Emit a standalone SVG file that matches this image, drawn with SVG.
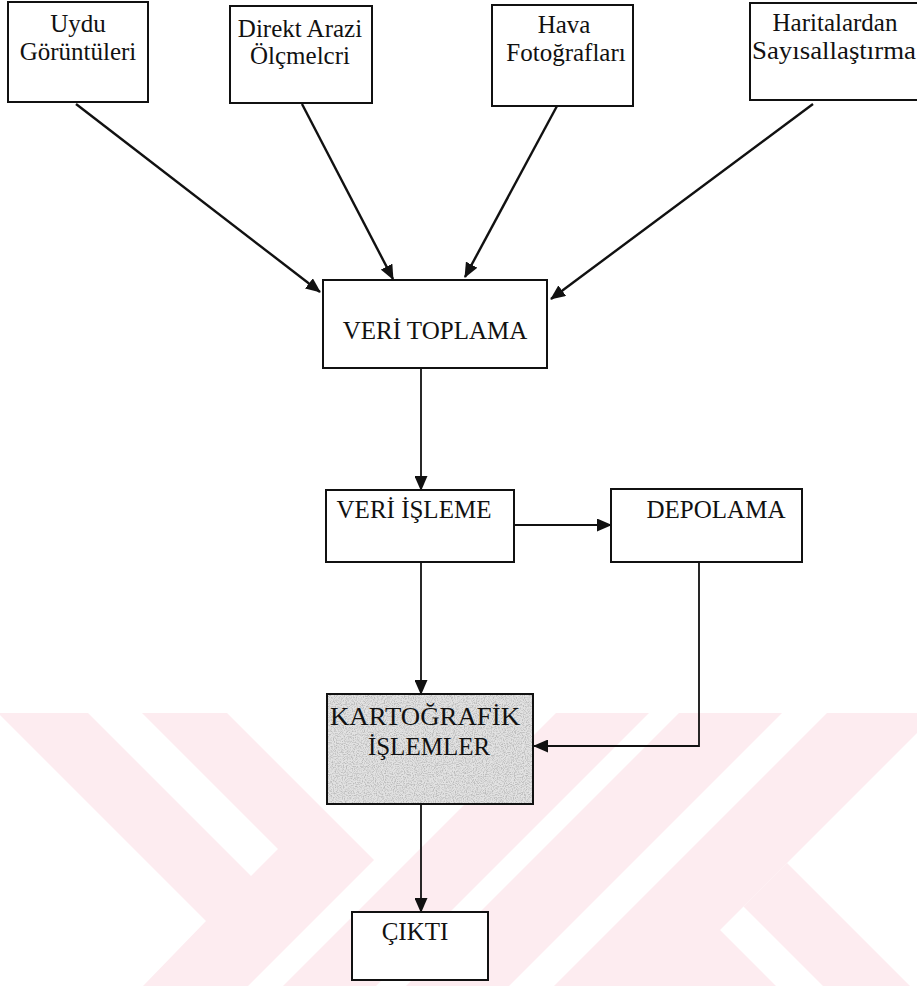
<svg xmlns="http://www.w3.org/2000/svg" width="917" height="986" viewBox="0 0 917 986">
  <defs>
    <style>
      .box { fill: #ffffff; stroke: #111111; stroke-width: 2; }
      .lbl { font-family: "Liberation Serif", "Times New Roman", serif; font-size: 25px; fill: #111111; text-anchor: middle; }
      .edge { fill: none; stroke: #111111; stroke-width: 1.8; }
      .edge-bold { fill: none; stroke: #111111; stroke-width: 2.4; }
      .mark { fill: #fdecf0; }
    </style>
    <marker id="arrow" viewBox="0 0 15 13" refX="14" refY="6.5" markerWidth="15" markerHeight="13" markerUnits="userSpaceOnUse" orient="auto">
      <path d="M0,0 L15,6.5 L0,13 z" fill="#111111"/>
    </marker>
    <filter id="grain" x="0" y="0" width="100%" height="100%">
      <feTurbulence type="fractalNoise" baseFrequency="0.9" numOctaves="2" seed="7" result="noise"/>
      <feColorMatrix in="noise" type="matrix" values="0 0 0 0 0.5  0 0 0 0 0.5  0 0 0 0 0.5  0 0 0 -3 1.75" result="dots"/>
      <feComposite in="dots" in2="SourceGraphic" operator="in"/>
    </filter>
  </defs>

  <rect x="0" y="0" width="917" height="986" fill="#ffffff"/>

  <!-- pale background emblem: two chevron figures built from 45 degree bands -->
  <g id="emblem">
    <path class="mark" fill-rule="evenodd" d="M0,715 L0,713 L227,713 L374,860 L248,986 L143,986 L206,921 Z M88,713 L142,713 L278,849 L251,876 Z"/>
    <polygon class="mark" points="556,713 649,713 376,986 283,986"/>
    <polygon class="mark" points="679,713 782,713 509,986 406,986"/>
    <polygon class="mark" points="827,713 917,713 917,733 720,930 776,986 554,986"/>
    <polygon class="mark" points="787,863 910,986 823,986 743.5,906.5"/>
  </g>

  <g id="connectors">
    <line class="edge-bold" x1="76" y1="104" x2="320" y2="292" marker-end="url(#arrow)"/>
    <line class="edge-bold" x1="302" y1="104" x2="393" y2="279" marker-end="url(#arrow)"/>
    <line class="edge-bold" x1="557" y1="106" x2="465" y2="277" marker-end="url(#arrow)"/>
    <line class="edge-bold" x1="813" y1="104" x2="551" y2="299" marker-end="url(#arrow)"/>
    <line class="edge" x1="421" y1="368" x2="421" y2="490" marker-end="url(#arrow)"/>
    <line class="edge" x1="514" y1="525" x2="611" y2="525" marker-end="url(#arrow)"/>
    <line class="edge" x1="421" y1="562" x2="421" y2="694" marker-end="url(#arrow)"/>
    <polyline class="edge" points="699,562 699,746 534,746" marker-end="url(#arrow)"/>
    <line class="edge" x1="421" y1="804" x2="421" y2="912" marker-end="url(#arrow)"/>
  </g>

  <g id="uydu">
    <rect class="box" x="8" y="2" width="140" height="100"/>
    <text class="lbl" x="78" y="32">Uydu</text>
    <text class="lbl" x="78" y="60">Görüntüleri</text>
  </g>

  <g id="arazi">
    <rect class="box" x="230" y="6" width="142" height="97"/>
    <text class="lbl" x="300" y="37">Direkt Arazi</text>
    <text class="lbl" x="300" y="64">Ölçmelcri</text>
  </g>

  <g id="hava">
    <rect class="box" x="492" y="5" width="141" height="101"/>
    <text class="lbl" x="564" y="33">Hava</text>
    <text class="lbl" x="566" y="61">Fotoğrafları</text>
  </g>

  <g id="harita">
    <rect class="box" x="750" y="3" width="180" height="97"/>
    <text class="lbl" x="835" y="31">Haritalardan</text>
    <text class="lbl" x="752" y="59" style="text-anchor:start" textLength="164" lengthAdjust="spacingAndGlyphs">Sayısallaştırma</text>
  </g>

  <g id="veri-toplama">
    <rect class="box" x="323" y="280" width="224" height="88"/>
    <text class="lbl" x="435" y="339">VERİ TOPLAMA</text>
  </g>

  <g id="veri-isleme">
    <rect class="box" x="326" y="490" width="188" height="72"/>
    <text class="lbl" x="414" y="518">VERİ İŞLEME</text>
  </g>

  <g id="depolama">
    <rect class="box" x="611" y="489" width="191" height="73"/>
    <text class="lbl" x="716" y="518">DEPOLAMA</text>
  </g>

  <g id="kartografik">
    <rect x="327" y="694" width="206" height="110" fill="#e2e2e2"/>
    <rect x="327" y="694" width="206" height="110" fill="#d0d0d0" filter="url(#grain)"/>
    <rect x="327" y="694" width="206" height="110" fill="none" stroke="#111111" stroke-width="2"/>
    <text class="lbl" x="425" y="725" textLength="190" lengthAdjust="spacingAndGlyphs">KARTOĞRAFİK</text>
    <text class="lbl" x="429" y="755">İŞLEMLER</text>
  </g>

  <g id="cikti">
    <rect class="box" x="352" y="912" width="136" height="68"/>
    <text class="lbl" x="415" y="940">ÇIKTI</text>
  </g>
</svg>
